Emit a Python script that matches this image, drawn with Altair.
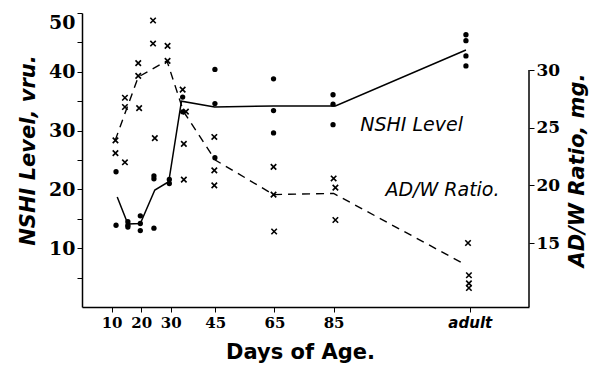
import altair as alt
import pandas as pd

# ---- data ----
# NSHI level (left axis, vru.) individual animals
nshi_days = [11.5, 11.5, 15.5, 15.5, 15.5, 19.7, 19.7, 19.7, 24.3, 24.3, 24.3,
             29.5, 29.5, 34.0, 34.0, 44.9, 44.9, 44.9, 64.7, 64.7, 64.7,
             84.8, 84.8, 84.8, 129.7, 129.7, 129.7, 129.7]
nshi_vals = [23.0, 13.9, 14.5, 13.9, 13.6, 15.5, 14.2, 13.0, 22.3, 21.8, 13.4,
             21.7, 21.0, 35.7, 33.2, 40.4, 34.6, 25.4, 38.8, 33.4, 29.6,
             36.1, 34.5, 31.0, 46.3, 45.3, 42.7, 41.0]
# NSHI mean line
nshi_line_days = [11.9, 15.5, 19.7, 24.6, 29.3, 33.6, 44.8, 64.7, 85.6, 129.7]
nshi_line_vals = [18.7, 14.1, 14.2, 19.9, 21.3, 35.0, 34.0, 34.2, 34.2, 43.7]

# AD/W ratio (right axis, mg.) individual animals
ratio_days = [11.3, 11.3, 14.5, 14.5, 14.5, 19.0, 19.0, 19.3, 24.0, 24.0, 24.6,
              28.9, 28.9, 34.0, 35.1, 34.4, 34.4, 44.7, 44.7, 44.7,
              64.7, 64.7, 64.9, 85.0, 85.6, 85.6, 130.4, 130.7, 130.7, 130.7]
ratio_vals = [23.9, 22.8, 27.6, 26.8, 22.0, 30.6, 29.5, 26.7, 34.3, 32.3, 24.1,
              32.1, 30.8, 28.3, 26.4, 23.6, 20.5, 24.2, 21.3, 20.0,
              21.6, 19.2, 16.0, 20.6, 19.8, 17.0, 15.0, 12.2, 11.5, 11.1]
# AD/W mean line
ratio_line_days = [11.2, 19.0, 28.7, 34.3, 45.0, 64.7, 85.0, 129.7]
ratio_line_vals = [23.9, 29.4, 30.8, 26.4, 22.2, 19.2, 19.3, 13.1]

# axis ticks
x_ticks = [10, 20, 30, 45, 65, 85, 131]
x_tick_labels = ["10", "20", "30", "45", "65", "85", "adult"]
left_ticks = [5, 10, 15, 20, 25, 30, 35, 40, 45, 50]
right_ticks = [15, 20, 25, 30]

# in-plot labels
label_texts = ["NSHI Level", "AD/W Ratio."]
label_days = [94, 102.5]
label_vals = [31.0, 19.9]

W, H = 447, 294
FONT_T = "DejaVu Sans"
FONT_L = "DejaVu Serif"

nshi_df = pd.DataFrame({"day": nshi_days, "v": nshi_vals})
nshi_line_df = pd.DataFrame({"day": nshi_line_days, "v": nshi_line_vals})
ratio_df = pd.DataFrame({"day": ratio_days, "v": ratio_vals})
ratio_line_df = pd.DataFrame({"day": ratio_line_days, "v": ratio_line_vals})
rule_df = pd.DataFrame({"v": [30]})
lab_df = pd.DataFrame({"day": label_days, "v": label_vals, "t": label_texts})

label_map = "{" + ",".join(f"'{v}':'{t}'" for v, t in zip(x_ticks, x_tick_labels)) + "}"

x_enc = alt.X("day:Q",
              scale=alt.Scale(domain=[0, 151], nice=False, zero=False),
              axis=alt.Axis(values=x_ticks, labelExpr=f"{label_map}[datum.value]",
                            title="Days of Age.", titleFont=FONT_T, titleFontSize=21,
                            titleFontWeight="bold", titleX=218, titleY=45,
                            titleBaseline="middle", titleAlign="center",
                            labelFont={"condition": {"test": "datum.value == 131", "value": FONT_T},
                                       "value": FONT_L},
                            labelFontStyle={"condition": {"test": "datum.value == 131", "value": "italic"},
                                            "value": "normal"},
                            labelFontSize=15, labelFontWeight="bold", labelPadding=3,
                            labelColor="black", tickColor="black", tickSize=5,
                            domainColor="black", domainWidth=1.5, grid=False))

y_left = alt.Y("v:Q",
               scale=alt.Scale(domain=[0, 50], nice=False, zero=False),
               axis=alt.Axis(values=left_ticks,
                             labelExpr="datum.value % 10 == 0 ? datum.value : ''",
                             labelFlush=True,
                             title="NSHI Level, vru.", titleFont=FONT_T, titleFontSize=21,
                             titleFontStyle="italic", titleFontWeight="bold",
                             titleX=-54, titleY=137, titleBaseline="middle", titleAlign="center",
                             labelFont=FONT_L, labelFontSize=19, labelFontWeight="bold",
                             labelColor="black", labelPadding=2,
                             tickColor="black", tickSize=5, domainColor="black",
                             domainWidth=1.5, grid=False, orient="left"))

y_right = alt.Y("v:Q",
                scale=alt.Scale(domain=[9.45, 34.95], nice=False, zero=False),
                axis=alt.Axis(values=right_ticks, title="AD/W Ratio, mg.",
                              titleFont=FONT_T, titleFontSize=21, titleFontWeight="bold",
                              titleFontStyle="italic", titleAngle=270,
                              titleX=48, titleY=157, titleBaseline="middle", titleAlign="center",
                              labelFont=FONT_L, labelFontSize=17, labelFontWeight="bold",
                              labelColor="black", labelPadding=2,
                              tickColor="black", tickSize=5, domain=False,
                              grid=False, orient="right"))

dots = alt.Chart(nshi_df).mark_point(filled=True, color="black", size=28, opacity=1).encode(
    x=x_enc, y=y_left)
solid = alt.Chart(nshi_line_df).mark_line(color="black", strokeWidth=1.5).encode(
    x=x_enc, y=y_left)
labels = alt.Chart(lab_df).mark_text(align="left", baseline="middle", font=FONT_T,
                                     fontSize=19, fontStyle="italic", color="black").encode(
    x=x_enc, y=y_left, text="t:N")
left_layer = alt.layer(dots, solid, labels)

crosses = alt.Chart(ratio_df).mark_point(shape="M-1,-1L1,1M-1,1L1,-1", filled=False,
                                         color="black", strokeWidth=1.6, size=30,
                                         opacity=1).encode(x=x_enc, y=y_right)
dashed = alt.Chart(ratio_line_df).mark_line(color="black", strokeWidth=1.4,
                                            strokeDash=[8, 6]).encode(x=x_enc, y=y_right)
rule = alt.Chart(rule_df).mark_rule(color="black", strokeWidth=1.5).encode(
    x=alt.value(W), y=y_right, y2=alt.value(H))
right_layer = alt.layer(crosses, dashed, rule)

chart = alt.layer(left_layer, right_layer).resolve_scale(y="independent").properties(
    width=W, height=H,
    autosize=alt.AutoSizeParams(type="none"),
    padding={"left": 74, "top": 5, "right": 63, "bottom": 56},
    background="white",
).configure_view(stroke=None)

chart.save("out.html", embed_options={"renderer": "svg", "actions": False})
